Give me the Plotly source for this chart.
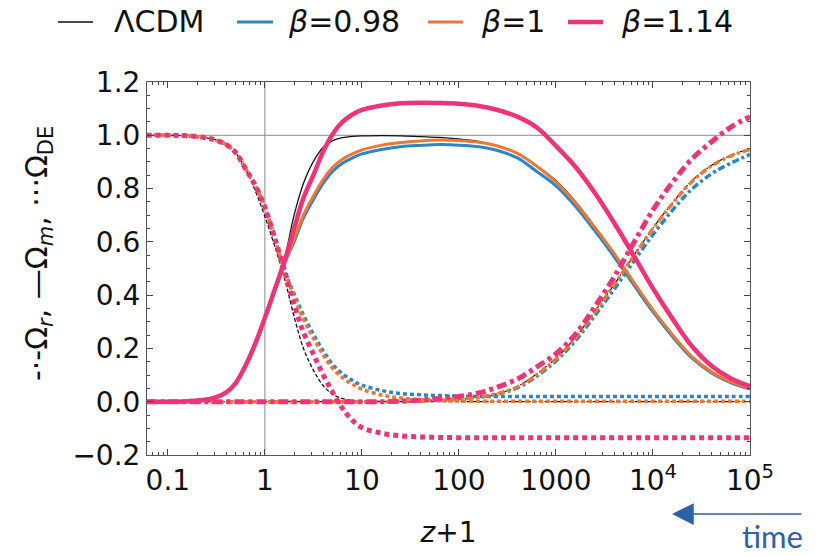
import plotly.graph_objects as go

# redshift grid (z+1) shared by every curve
z_plus_1 = [0.06, 0.1, 0.16, 0.25, 0.32, 0.4, 0.5, 0.63, 0.8, 1,
            1.26, 1.6, 2, 2.5, 3.2, 4, 5, 6.3, 8, 10,
            16, 25, 40, 63, 100, 160, 250, 400, 630, 1000,
            1600, 2500, 4000, 6300, 1e4, 1.6e4, 2.5e4, 4e4, 6.3e4, 1e5]

# LambdaCDM
lcdm_m = [0, 0, 0.002, 0.008, 0.017, 0.033, 0.066, 0.125, 0.21, 0.305,
          0.415, 0.54, 0.70, 0.82, 0.905, 0.955, 0.98, 0.991, 0.996, 0.998,
          0.999, 0.998, 0.995, 0.992, 0.986, 0.977, 0.96, 0.933, 0.886, 0.83,
          0.75, 0.658, 0.557, 0.451, 0.346, 0.251, 0.171, 0.112, 0.075, 0.05]
lcdm_de = [1.0, 1.0, 0.998, 0.99, 0.982, 0.967, 0.934, 0.875, 0.79, 0.695,
           0.585, 0.46, 0.32, 0.20, 0.115, 0.06, 0.028, 0.012, 0.005, 0.002,
           0.001, 0, 0, 0, 0, 0, 0, 0, 0, 0,
           0, 0, 0, 0, 0, 0, 0, 0, 0, 0]
lcdm_r = [0, 0, 0, 0, 0, 0, 0, 0, 0, 0,
          0, 0, 0, 0, 0, 0, 0, 0, 0, 0,
          0, 0.001, 0.003, 0.006, 0.01, 0.017, 0.03, 0.057, 0.104, 0.163,
          0.243, 0.338, 0.441, 0.547, 0.652, 0.748, 0.828, 0.887, 0.924, 0.95]

# beta = 0.98
b098_m = [0, 0, 0.002, 0.008, 0.018, 0.035, 0.07, 0.135, 0.22, 0.315,
          0.415, 0.52, 0.60, 0.69, 0.762, 0.82, 0.865, 0.895, 0.915, 0.93,
          0.947, 0.957, 0.962, 0.965, 0.963, 0.957, 0.943, 0.915, 0.865, 0.81,
          0.732, 0.643, 0.543, 0.44, 0.337, 0.243, 0.165, 0.108, 0.072, 0.047]
b098_de = [1.0, 1.0, 0.998, 0.99, 0.98, 0.965, 0.935, 0.875, 0.81, 0.73,
           0.615, 0.49, 0.405, 0.325, 0.25, 0.19, 0.14, 0.105, 0.08, 0.062,
           0.042, 0.031, 0.026, 0.023, 0.021, 0.02, 0.02, 0.02, 0.02, 0.02,
           0.02, 0.02, 0.02, 0.02, 0.02, 0.02, 0.02, 0.02, 0.02, 0.02]
b098_r = [0, 0, 0, 0, 0, 0, 0, 0, 0, 0,
          0, 0, 0, 0, 0, 0, 0, 0, 0, 0,
          0, 0.001, 0.003, 0.006, 0.01, 0.017, 0.029, 0.052, 0.095, 0.153,
          0.23, 0.322, 0.423, 0.525, 0.627, 0.72, 0.797, 0.855, 0.895, 0.928]

# beta = 1
b1_m = [0, 0, 0.002, 0.008, 0.018, 0.035, 0.07, 0.135, 0.22, 0.315,
        0.415, 0.52, 0.61, 0.70, 0.775, 0.835, 0.88, 0.91, 0.93, 0.945,
        0.963, 0.973, 0.979, 0.982, 0.98, 0.974, 0.96, 0.932, 0.885, 0.825,
        0.745, 0.655, 0.555, 0.45, 0.345, 0.25, 0.17, 0.112, 0.075, 0.05]
b1_de = [1.0, 1.0, 0.998, 0.99, 0.98, 0.965, 0.935, 0.875, 0.81, 0.73,
         0.615, 0.485, 0.395, 0.31, 0.235, 0.175, 0.125, 0.09, 0.065, 0.047,
         0.025, 0.014, 0.008, 0.005, 0.003, 0.002, 0.002, 0.002, 0.002, 0.002,
         0.002, 0.002, 0.002, 0.002, 0.002, 0.002, 0.002, 0.002, 0.002, 0.002]
b1_r = [0, 0, 0, 0, 0, 0, 0, 0, 0, 0,
        0, 0, 0, 0, 0, 0, 0, 0, 0, 0,
        0, 0.001, 0.003, 0.006, 0.01, 0.017, 0.03, 0.055, 0.1, 0.16,
        0.24, 0.335, 0.44, 0.545, 0.65, 0.745, 0.825, 0.885, 0.922, 0.947]

# beta = 1.14
b114_m = [0, 0, 0.002, 0.008, 0.018, 0.035, 0.07, 0.135, 0.22, 0.315,
          0.42, 0.53, 0.65, 0.765, 0.855, 0.94, 1.005, 1.05, 1.078, 1.095,
          1.112, 1.12, 1.122, 1.121, 1.118, 1.11, 1.095, 1.07, 1.03, 0.96,
          0.88, 0.785, 0.67, 0.55, 0.425, 0.31, 0.21, 0.135, 0.088, 0.058]
b114_de = [1.0, 1.0, 0.998, 0.99, 0.98, 0.965, 0.935, 0.875, 0.81, 0.73,
           0.615, 0.49, 0.365, 0.26, 0.175, 0.10, 0.035, -0.025, -0.07, -0.097,
           -0.118, -0.128, -0.132, -0.134, -0.135, -0.135, -0.135, -0.135, -0.135, -0.135,
           -0.135, -0.135, -0.135, -0.135, -0.135, -0.135, -0.135, -0.135, -0.135, -0.135]
b114_r = [0, 0, 0, 0, 0, 0, 0, 0, 0, 0,
          0, 0, 0, 0, 0, 0, 0, 0, 0, 0,
          0, 0.002, 0.006, 0.012, 0.02, 0.033, 0.055, 0.085, 0.13, 0.18,
          0.255, 0.355, 0.47, 0.595, 0.72, 0.825, 0.91, 0.975, 1.03, 1.07]

x_tick_vals = [0.1, 1, 10, 100, 1000, 1e4, 1e5]
x_tick_text = ["0.1", "1", "10", "100", "1000", "10<sup>4</sup>", "10<sup>5</sup>"]
y_tick_vals = [-0.2, 0.0, 0.2, 0.4, 0.6, 0.8, 1.0, 1.2]
y_tick_text = ["\u22120.2", "0.0", "0.2", "0.4", "0.6", "0.8", "1.0", "1.2"]

models = [
    # name, colour, (m, de, r), widths (m, de, r), dash patterns (de, r)
    ("\u039bCDM", "#111111", (lcdm_m, lcdm_de, lcdm_r), (1.3, 1.3, 1.2), ("4px,2px", "6px,2px,1.5px,2px")),
    ("<i>\u03b2</i>=0.98", "#2a86c8", (b098_m, b098_de, b098_r), (3, 3.5, 3.5), ("4px,3px", "7px,3px,3px,3px")),
    ("<i>\u03b2</i>=1", "#ee7733", (b1_m, b1_de, b1_r), (3, 3.5, 3.5), ("4px,3px", "7px,3px,3px,3px")),
    ("<i>\u03b2</i>=1.14", "#ee3377", (b114_m, b114_de, b114_r), (4.5, 5, 5), ("5px,4px", "10px,4px,4px,4px")),
]

# plot area in pixels (figure is 822 x 556)
PL, PR, PT, PB = 147, 750, 82, 455


def px_to_paper(px, py):
    return (px - PL) / (PR - PL), (PB - py) / (PB - PT)


fig = go.Figure()
for name, colour, (om, ode, orad), (wm, wde, wr), (dde, dr) in models:
    fig.add_trace(go.Scatter(x=z_plus_1, y=om, mode="lines", name=name, showlegend=False,
                             line=dict(color=colour, width=wm, shape="spline", smoothing=1.0)))
    fig.add_trace(go.Scatter(x=z_plus_1, y=ode, mode="lines", showlegend=False,
                             line=dict(color=colour, width=wde, dash=dde, shape="spline", smoothing=1.0)))
    fig.add_trace(go.Scatter(x=z_plus_1, y=orad, mode="lines", showlegend=False,
                             line=dict(color=colour, width=wr, dash=dr, shape="spline", smoothing=1.0)))

# legend row above the axes: line sample, then label
legend_slots = [(58, 93, 112), (237, 273, 286), (428, 463, 479), (568, 603, 619)]
legend_y = 22
for (name, colour, _, (wm, _, _), _), (lx0, lx1, tx) in zip(models, legend_slots):
    x0, y0 = px_to_paper(lx0, legend_y)
    x1, _ = px_to_paper(lx1, legend_y)
    fig.add_shape(type="line", xref="paper", yref="paper", x0=x0, x1=x1, y0=y0, y1=y0,
                  line=dict(color=colour, width=wm))
    xt, yt = px_to_paper(tx, legend_y)
    fig.add_annotation(xref="paper", yref="paper", x=xt, y=yt, xanchor="left", yanchor="middle",
                       text=name, showarrow=False,
                       font=dict(family="DejaVu Sans", size=30, color="#111111"))

# reference lines at Omega = 1 and z+1 = 1
fig.add_shape(type="line", xref="x", yref="y", x0=0.06, x1=1e5, y0=1.0, y1=1.0,
              line=dict(color="#8a8a8a", width=1), layer="below")
fig.add_shape(type="line", xref="x", yref="y", x0=1, x1=1, y0=-0.2, y1=1.2,
              line=dict(color="#8a8a8a", width=1), layer="below")

font_main = dict(family="DejaVu Sans", size=28, color="#111111")

fig.update_xaxes(type="log", range=[-1.215, 5.0], tickmode="array", tickvals=x_tick_vals,
                 ticktext=x_tick_text, ticks="inside", ticklen=6, tickcolor="#444444",
                 showline=True, linecolor="#555555", linewidth=1, mirror="ticks", showgrid=False,
                 zeroline=False, tickfont=font_main,
                 minor=dict(ticks="inside", ticklen=3, tickcolor="#444444", dtick="D1", showgrid=False),
                 title=dict(text="<i>z</i>+1", font=font_main, standoff=26))
fig.update_yaxes(range=[-0.2, 1.2], tickmode="array", tickvals=y_tick_vals, ticktext=y_tick_text,
                 ticks="inside", ticklen=6, tickcolor="#444444", showline=True, linecolor="#555555",
                 linewidth=1, mirror="ticks", showgrid=False, zeroline=False, tickfont=font_main,
                 minor=dict(ticks="inside", ticklen=3, tickcolor="#444444", dtick=0.05, showgrid=False))

# y-axis label, rotated
yl_x, yl_y = px_to_paper(38, 254)
fig.add_annotation(xref="paper", yref="paper", x=yl_x, y=yl_y, xanchor="center", yanchor="middle",
                   textangle=-90, showarrow=False,
                   text="-\u00b7-\u03a9<sub><i>r</i></sub>, \u2014\u03a9<sub><i>m</i></sub>, \u00b7\u00b7\u00b7\u03a9<sub>DE</sub>",
                   font=dict(family="DejaVu Sans", size=30, color="#111111"))

# arrow of time
ax_tip, ay_tip = px_to_paper(672, 514)
fig.add_annotation(xref="paper", yref="paper", x=ax_tip, y=ay_tip,
                   ax=131, ay=0, axref="pixel", ayref="pixel", text="", showarrow=True,
                   arrowhead=2, arrowsize=2.9, arrowwidth=1.5, arrowcolor="#2f62a3")
tx_time, ty_time = px_to_paper(772, 536)
fig.add_annotation(xref="paper", yref="paper", x=tx_time, y=ty_time, xanchor="center",
                   yanchor="middle", text="time", showarrow=False,
                   font=dict(family="Lato", size=31, color="#2f62a3"))

fig.update_layout(
    width=822, height=556,
    margin=dict(l=PL, r=822 - PR, t=PT, b=556 - PB, autoexpand=False),
    paper_bgcolor="white", plot_bgcolor="white",
    showlegend=False,
)

fig.write_html("out.html")
